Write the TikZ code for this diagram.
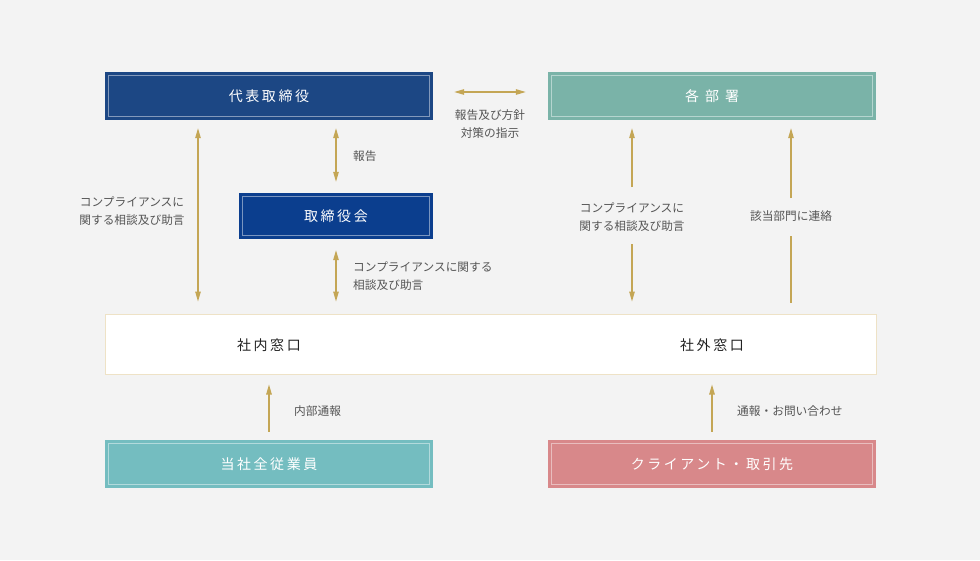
\documentclass[tikz,border=0pt]{standalone}
\usepackage{fontspec}
\setmainfont{Noto Sans CJK JP}
\newfontfamily\jptitle[LetterSpace=18]{Noto Sans CJK JP}
\usetikzlibrary{arrows.meta}
\definecolor{bgc}{HTML}{F3F3F3}
\definecolor{ceoc}{HTML}{1C4784}
\definecolor{boardc}{HTML}{0B3E8E}
\definecolor{deptc}{HTML}{7AB3A8}
\definecolor{staffc}{HTML}{74BDC0}
\definecolor{clientc}{HTML}{D8888A}
\definecolor{arrc}{HTML}{C4A655}
\definecolor{winborder}{HTML}{EEE2C6}
\definecolor{labc}{HTML}{555555}
\definecolor{wintext}{HTML}{222222}
\tikzset{
  box/.style={minimum width=328pt, minimum height=48pt, inner sep=0pt, text=white, font=\jptitle\fontsize{14pt}{16pt}\selectfont},
  innerline/.style={draw=white, draw opacity=0.45, line width=0.8pt},
  arr/.style={draw=arrc, line width=1.1pt},
  tip/.style={-{Triangle[length=10pt,width=5.5pt]}},
  dtip/.style={{Triangle[length=10pt,width=5.5pt]}-{Triangle[length=10pt,width=5.5pt]}},
  lab/.style={text=labc, inner sep=0pt, font=\fontsize{11.7pt}{18pt}\selectfont},
  wintxt/.style={text=wintext, inner sep=0pt, font=\jptitle\fontsize{14pt}{16pt}\selectfont}
}
\begin{document}
\begin{tikzpicture}[x=1pt,y=-1pt]
\fill[bgc] (0,0) rectangle (980,560);
\useasboundingbox (0,0) rectangle (980,560);

% boxes
\node[box, fill=ceoc] (ceo) at (269,96) {代表取締役};
\node[box, fill=deptc] (dept) at (712,96) {各\hspace{6pt}部\hspace{6pt}署};
\node[box, fill=boardc, minimum width=194pt, minimum height=46pt] (board) at (336,216) {取締役会};
\node[fill=white, draw=winborder, line width=1pt, minimum width=771pt, minimum height=60pt, inner sep=0pt] (win) at (490.5,344) {};
\node[box, fill=staffc] (staff) at (269,464) {当社全従業員};
\node[box, fill=clientc] (client) at (712,464) {クライアント・取引先};

\foreach \n in {ceo,dept,board,staff,client}{
  \draw[innerline] ([shift={(4,4)}]\n.north west) rectangle ([shift={(-4,-4)}]\n.south east);
}

\node[wintxt] (inwin) at (269,345) {社内窓口};
\node[wintxt] (outwin) at (712,345) {社外窓口};

% coordinates for columns
\coordinate (cl) at (198,0);

% labels
\node[lab, align=center] (lleft) at (132,211) {コンプライアンスに\\関する相談及び助言};
\node[lab, anchor=west] (lrep) at (353,156) {報告};
\node[lab, align=center] (lhor) at (490,124) {報告及び方針\\対策の指示};
\node[lab, anchor=west, align=left] (lmid) at (353,276) {コンプライアンスに関する\\相談及び助言};
\node[lab, align=center] (lr1) at (632,217) {コンプライアンスに\\関する相談及び助言};
\node[lab] (lr2) at (791,216) {該当部門に連絡};
\node[lab, anchor=west] (lin) at (294,411) {内部通報};
\node[lab, anchor=west] (lout) at (737,411) {通報・お問い合わせ};

% arrows
\draw[arr, dtip, shorten <=8pt, shorten >=12pt] (ceo.south -| cl) -- (win.north -| cl);
\draw[arr, dtip, shorten <=8pt, shorten >=11pt] (ceo.south -| board.north) -- (board.north);
\draw[arr, dtip, shorten <=11pt, shorten >=12pt] (board.south) -- (win.north -| board.south);
\draw[arr, dtip, shorten <=21pt, shorten >=22pt] ([yshift=4pt]ceo.east) -- ([yshift=4pt]dept.west);
% right column 1
\draw[arr, tip, shorten <=30pt, shorten >=8pt] (lr1.center) -- (dept.south -| lr1);
\draw[arr, tip, shorten <=27pt, shorten >=12pt] (lr1.center) -- (win.north -| lr1);
% right column 2
\draw[arr, tip, shorten <=18pt, shorten >=8pt] (lr2.center) -- (dept.south -| lr2);
\draw[arr, shorten <=11pt, shorten >=20pt] (win.north -| lr2) -- (lr2.center);
% bottom
\draw[arr, tip, shorten <=8pt, shorten >=10pt] (staff.north) -- (staff.north |- win.south);
\draw[arr, tip, shorten <=8pt, shorten >=10pt] (client.north) -- (client.north |- win.south);
\end{tikzpicture}
\end{document}
